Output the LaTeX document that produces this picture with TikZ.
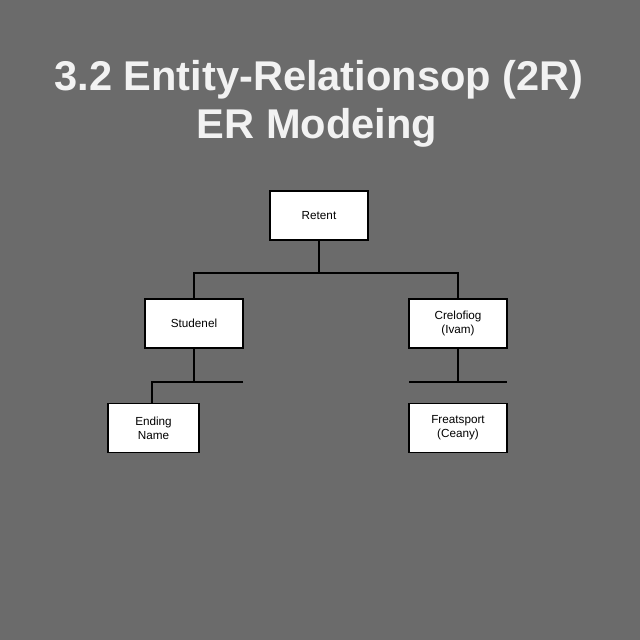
\documentclass[tikz,border=0pt]{standalone}
\usepackage{fontspec}
\setmainfont{Liberation Sans}
\definecolor{bggray}{HTML}{6B6B6B}
\definecolor{titlewhite}{HTML}{F2F2F2}
\tikzset{
  entbox/.style={draw=black, fill=white, line width=1pt, minimum width=2.94cm, minimum height=1.47cm, align=center, font=\fontsize{10}{12}\selectfont},
  link/.style={line width=1.6pt}
}
\begin{document}
\begin{tikzpicture}[x=0.03cm,y=-0.03cm]
        % background
        \fill[bggray] (0,0) rectangle (640,640);
        \useasboundingbox (0,0) rectangle (640,640);

        % title
        \node[titlewhite, font=\bfseries\fontsize{35.5}{42}\selectfont] (title1) at (319,80) {3.2 Entity-Relationsop (2R)};
        \node[titlewhite, font=\bfseries\fontsize{35.5}{42}\selectfont] (title2) at (317,128) {ER Modeing};

        % entities
        \node[entbox] (retent) at (319,215.5) {Retent};
        \node[entbox] (student) at (194,323.5) {Studenel};
        \node[entbox] (credit) at (458,323.5) {Crelofiog\\(Ivam)};
        \node[entbox, minimum width=2.73cm] (ending) at (153.5,428) {Ending\\Name};
        \node[entbox] (feat) at (458,428) {Freatsport\\(Ceany)};

        % connectors
        \coordinate (hub) at (319,273);
        \draw[link] (retent.south) -- (hub);
        \draw[link] (student.north) |- (hub) -| (credit.north);

        \coordinate (sbar) at (194,382);
        \coordinate (sbarend) at (243,382);
        \draw[link] (student.south) -- (sbar);
        \draw[link] (sbarend) -- (sbar) -| (ending.north -| 152,0);

        \coordinate (cbar) at (458,382);
        \coordinate (cbarl) at (409,382);
        \coordinate (cbarr) at (507,382);
        \draw[link] (credit.south) -- (cbar);
        \draw[link] (cbarl) -- (cbarr);
\end{tikzpicture}
\end{document}
